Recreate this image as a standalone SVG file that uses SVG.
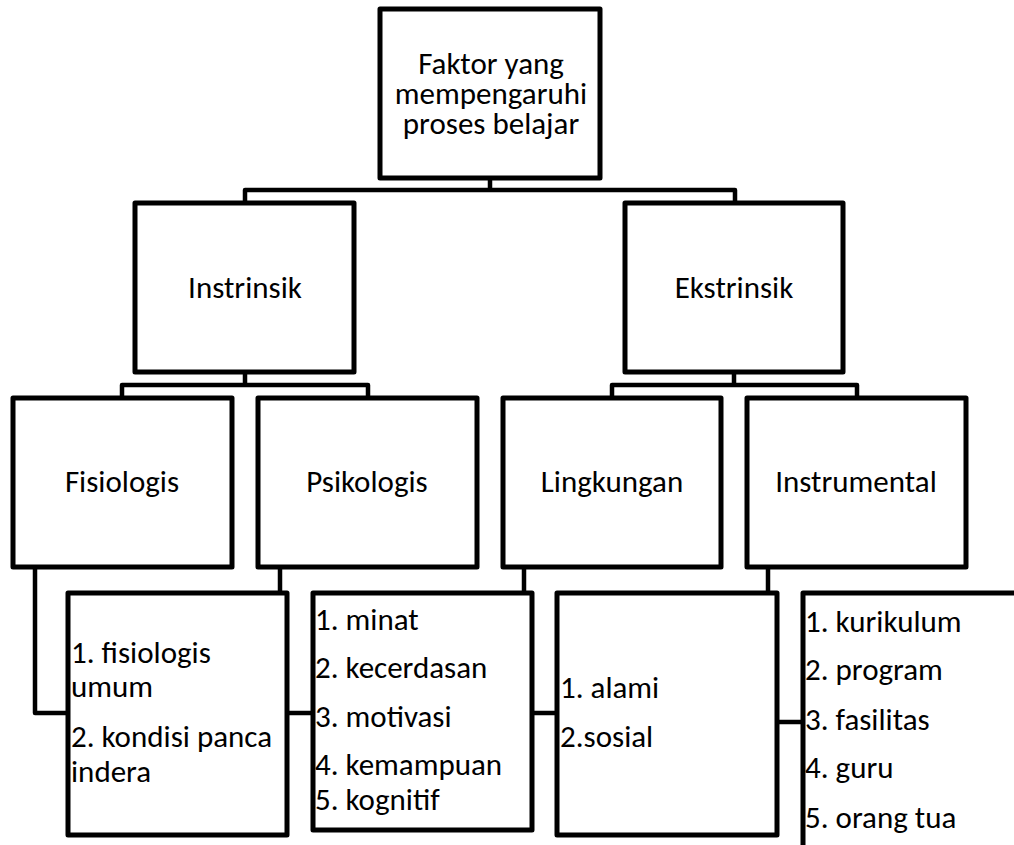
<svg xmlns="http://www.w3.org/2000/svg" width="1014" height="845" viewBox="0 0 1014 845">
<style>
.box{fill:#fff;stroke:#000;stroke-width:5;stroke-linejoin:round}
.open{fill:none;stroke:#000;stroke-width:5;stroke-linejoin:round}
.conn{fill:none;stroke:#000;stroke-width:4.5;stroke-linejoin:round}
text{font-family:Carlito,Calibri,Lato,"Liberation Sans",sans-serif;font-size:31px;fill:#000}
.c{text-anchor:middle}
</style>
<rect width="1014" height="845" fill="#fff"/>
<g id="connectors">
<path class="conn" d="M490,178 V190 M245,203 V190 H735 V203"/>
<path class="conn" d="M245,372 V385 M122,398 V385 H368 V398"/>
<path class="conn" d="M734,372 V385 M612,398 V385 H857 V398"/>
<path class="conn" d="M35,567 V713 H68"/>
<path class="conn" d="M280,567 V593"/>
<path class="conn" d="M524,567 V593"/>
<path class="conn" d="M768,567 V593"/>
<path class="conn" d="M287,713 H313"/>
<path class="conn" d="M532,713 H557"/>
<path class="conn" d="M777,722 H803"/>
</g>
<g id="root">
<rect class="box" x="380" y="9" width="220" height="169"/>
<text class="c" x="491" y="74">Faktor yang</text>
<text class="c" x="491" y="104">mempengaruhi</text>
<text class="c" x="491" y="134">proses belajar</text>
</g>
<g id="instrinsik">
<rect class="box" x="135" y="203" width="219" height="169"/>
<text class="c" x="245" y="298">Instrinsik</text>
</g>
<g id="ekstrinsik">
<rect class="box" x="625" y="203" width="218" height="169"/>
<text class="c" x="734" y="298">Ekstrinsik</text>
</g>
<g id="fisiologis">
<rect class="box" x="13" y="398" width="219" height="169"/>
<text class="c" x="122" y="492">Fisiologis</text>
</g>
<g id="psikologis">
<rect class="box" x="258" y="398" width="219" height="169"/>
<text class="c" x="367" y="492">Psikologis</text>
</g>
<g id="lingkungan">
<rect class="box" x="503" y="398" width="218" height="169"/>
<text class="c" x="612" y="492">Lingkungan</text>
</g>
<g id="instrumental">
<rect class="box" x="747" y="398" width="219" height="169"/>
<text class="c" x="856" y="492">Instrumental</text>
</g>
<g id="list-fisiologis">
<rect class="box" x="68" y="593" width="219" height="242"/>
<text x="71" y="663">1. fisiologis</text>
<text x="71" y="697">umum</text>
<text x="71" y="747">2. kondisi panca</text>
<text x="71" y="782">indera</text>
</g>
<g id="list-psikologis">
<rect class="box" x="313" y="593" width="219" height="237"/>
<text x="315" y="630">1. minat</text>
<text x="315" y="678">2. kecerdasan</text>
<text x="315" y="727">3. motivasi</text>
<text x="315" y="775">4. kemampuan</text>
<text x="315" y="810">5. kognitif</text>
</g>
<g id="list-lingkungan">
<rect class="box" x="557" y="593" width="220" height="242"/>
<text x="560" y="698">1. alami</text>
<text x="560" y="747">2.sosial</text>
</g>
<g id="list-instrumental">
<path class="open" d="M1020,593 H803 V850"/>
<text x="805" y="632">1. kurikulum</text>
<text x="805" y="680">2. program</text>
<text x="805" y="730">3. fasilitas</text>
<text x="805" y="778">4. guru</text>
<text x="805" y="828">5. orang tua</text>
</g>
</svg>
